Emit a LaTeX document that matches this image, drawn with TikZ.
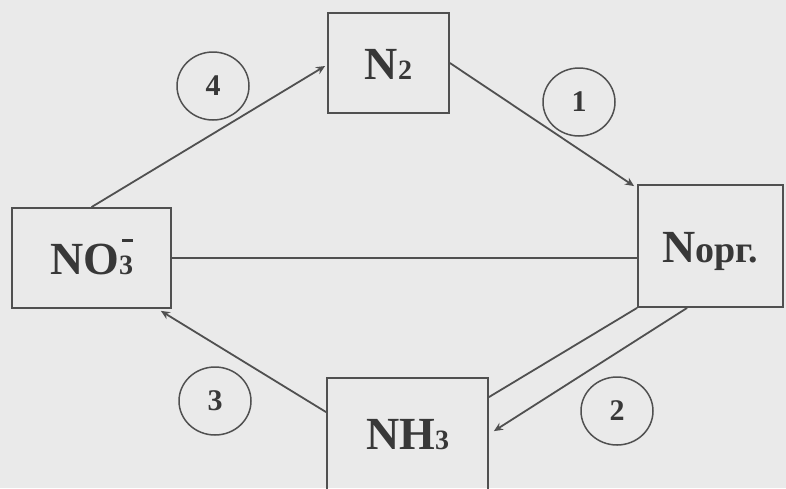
\documentclass[tikz,border=0pt]{standalone}
\usepackage{fontspec}
\setmainfont{Liberation Serif}
\usetikzlibrary{arrows.meta,calc,shapes.geometric}
\definecolor{paper}{HTML}{EAEAEA}
\definecolor{ink}{HTML}{383838}
\definecolor{linec}{HTML}{505050}
\tikzset{
  box/.style={draw=linec,line width=1.8pt,rectangle,inner sep=0pt,
    text=ink,font=\bfseries\fontsize{46}{46}\selectfont,
    text height=33pt,text depth=0pt},
  numc/.style={draw=linec,line width=1.5pt,ellipse,minimum width=72pt,minimum height=68pt,
    inner sep=0pt,text=ink,font=\bfseries\fontsize{30}{30}\selectfont},
  conn/.style={draw=linec,line width=1.8pt},
  arr/.style={conn,-{Stealth[length=9pt,width=8pt]}}
}
\newcommand{\subdig}[1]{{\fontsize{28}{28}\selectfont #1}}
\begin{document}
\begin{tikzpicture}[x=1pt,y=-1pt]
\fill[paper] (0,0) rectangle (786,488);
\useasboundingbox (0,0) rectangle (786,488);
\clip (0,0) rectangle (786,488);
\node[box,minimum width=121pt,minimum height=100pt] (N2) at (388.5,63) {N\subdig{2}};
\node[box,minimum width=159pt,minimum height=100pt] (NO3) at (91.5,258)
  {NO\rlap{\hspace{3pt}\raisebox{33pt}{\color{ink}\rule{11pt}{2.2pt}}}\subdig{3}};
\node[box,minimum width=145pt,minimum height=122pt] (Nopr) at (710.5,246)
  {N{\fontsize{38}{38}\selectfont орг.}};
\node[box,minimum width=161pt,minimum height=140pt,text depth=31pt] (NH3) at (407.5,448) {NH\subdig{3}};
\node[numc] (c4) at (213,86) {4};
\node[numc] (c1) at (579,102) {1};
\node[numc] (c3) at (215,401) {3};
\node[numc] (c2) at (617,411) {2};
\draw[arr] (NO3.north) -- ($(N2.west)+(-2,3)$);
\draw[arr] (N2.east) -- ($(Nopr.north west)+(-3,2)$);
\draw[conn] (NO3.east) -- (NO3.east -| Nopr.west);
\draw[conn] (Nopr.south west) -- ($(NH3.north east)+(0,20)$);
\draw[arr] ($(Nopr.south west)+(50,0)$) -- ($(NH3.north east)+(5,54)$);
\draw[arr] ($(NH3.north west)+(0,35)$) -- ($(NO3.south east)+(-11,2)$);
\end{tikzpicture}
\end{document}
